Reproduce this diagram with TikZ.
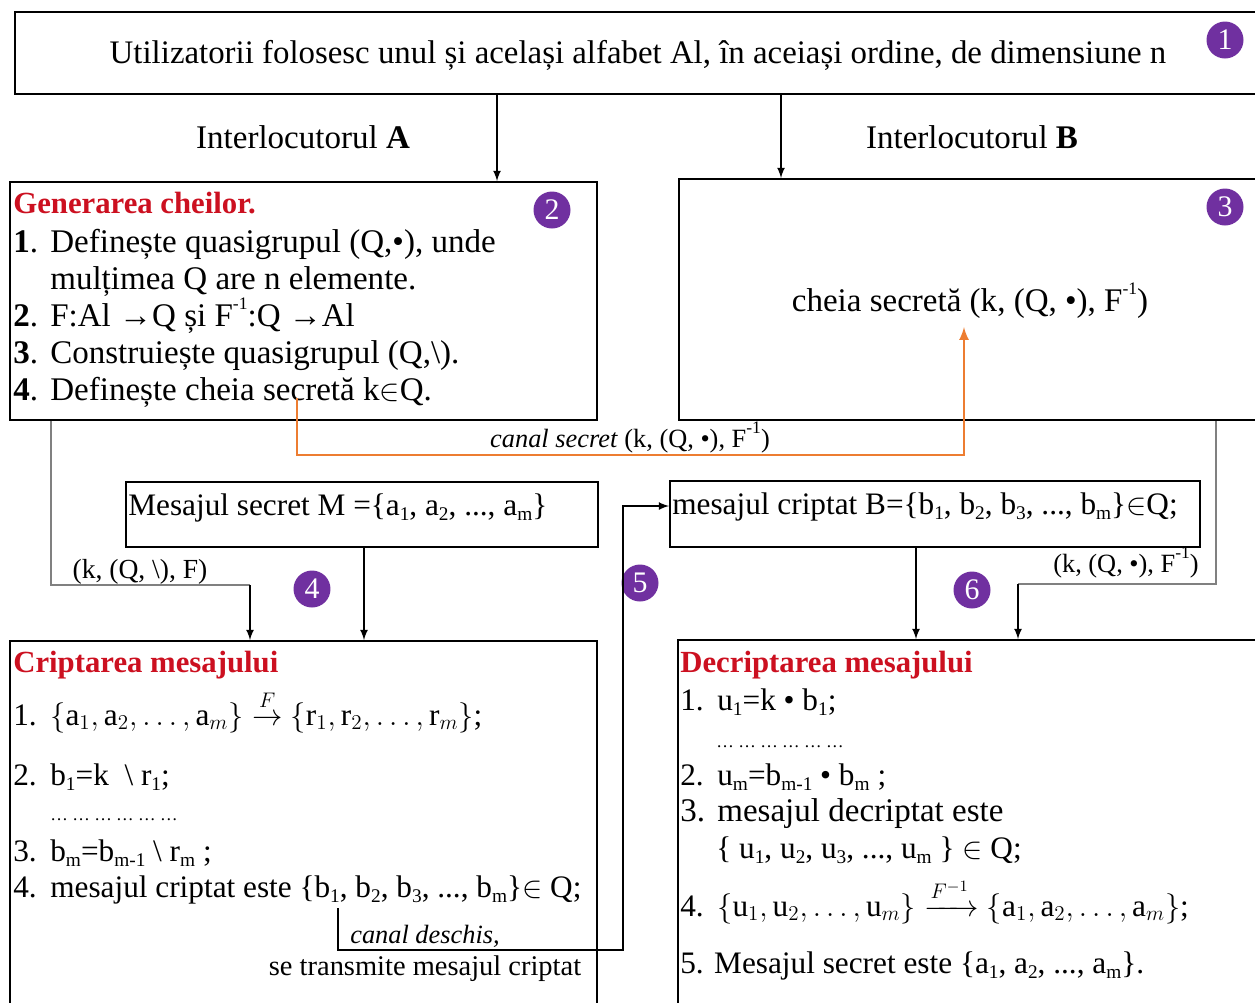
\documentclass[tikz,border=0pt]{standalone}
\usepackage{amsmath}
\usepackage{fontspec}
\setmainfont{Liberation Serif}
\usetikzlibrary{positioning,calc,arrows}
\definecolor{stepred}{RGB}{204,16,32}
\definecolor{badgepurple}{RGB}{112,48,160}
\definecolor{chanorange}{RGB}{237,125,49}
\newcommand{\sbs}[1]{\raisebox{-0.18em}{\fontsize{11}{12}\selectfont #1}}
\newcommand{\sps}[1]{\raisebox{0.5em}{\fontsize{10}{12}\selectfont #1}}
\newcommand{\itm}[1]{\makebox[0.74cm][l]{#1}}

\begin{document}
\begin{tikzpicture}[x=0.02cm,y=-0.02cm,>=latex,
    box/.style={draw,line width=1.1pt,inner sep=0pt},
    txt/.style={anchor=base west,inner sep=0pt,font=\fontsize{18.8}{22}\selectfont},
    stxt/.style={txt,font=\fontsize{17.8}{21}\selectfont},
    lbl/.style={anchor=base,inner sep=0pt,font=\fontsize{15}{18}\selectfont},
    title/.style={txt,text=stepred,font=\fontsize{17.5}{21}\selectfont\bfseries},
    badge/.style={circle,fill=badgepurple,text=white,inner sep=0pt,minimum size=0.74cm,font=\fontsize{17}{20}\selectfont},
    link/.style={->,line width=1pt},
    gline/.style={line width=0.8pt,gray}]
    \useasboundingbox (0,0) rectangle (1255,1002);

    % boxes
    \node[box,minimum width=24.9cm,minimum height=1.64cm] (top) at (637,53) {};
    \node[box,minimum width=11.74cm,minimum height=4.76cm] (gen) at (303.5,301) {};
    \node[box,minimum width=11.66cm,minimum height=4.82cm] (keyB) at (970.5,299.5) {};
    \node[box,minimum width=9.44cm,minimum height=1.3cm] (msg) at (362,514.5) {};
    \node[box,minimum width=10.6cm,minimum height=1.32cm] (cryptB) at (935,514) {};
    \node[box,minimum width=11.74cm,minimum height=7.4cm] (cript) at (303.5,826) {};
    \node[box,minimum width=11.68cm,minimum height=7.4cm] (decript) at (970,825) {};

    % top line
    \node[txt,anchor=base,font=\fontsize{18.7}{22}\selectfont] (alph) at (638,63)
        {Utilizatorii folosesc unul și același alfabet Al, în aceiași ordine, de dimensiune n};
    \node[txt,anchor=base] (userA) at (303,148) {Interlocutorul \textbf{A}};
    \node[txt,anchor=base] (userB) at (972,148) {Interlocutorul \textbf{B}};

    % key generation
    \node[title] (g0) at (13,213) {Generarea cheilor.};
    \node[txt] (g1) at (13,252) {\itm{\textbf{1}.}Definește quasigrupul (Q,•), unde};
    \node[txt] (g2) at (50,289) {mulțimea Q are n elemente.};
    \node[txt] (g3) at (13,326) {\itm{\textbf{2}.}F:Al →Q și F\sps{-1}:Q →Al};
    \node[txt] (g4) at (13,363) {\itm{\textbf{3}.}Construiește quasigrupul (Q,\textbackslash).};
    \node[txt] (g5) at (13,400) {\itm{\textbf{4}.}Definește cheia secretă k$\in$Q.};

    \node[txt,anchor=base] (sec) at (970,311) {cheia secretă (k, (Q, •), F\sps{-1})};

    % messages
    \node[stxt] (m0) at (128,515) {Mesajul secret M =\{a\sbs{1}, a\sbs{2}, ..., a\sbs{m}\}};
    \node[stxt] (b0) at (672,514) {mesajul criptat B=\{b\sbs{1}, b\sbs{2}, b\sbs{3}, ..., b\sbs{m}\}$\in$Q;};

    % encryption
    \node[title] (c0) at (13,672) {Criptarea mesajului};
    \node[stxt] (c1) at (13,725) {\itm{1.}$\{\mathrm{a}_1,\mathrm{a}_2,\dots,\mathrm{a}_m\}\stackrel{F}{\rightarrow}\{\mathrm{r}_1,\mathrm{r}_2,\dots,\mathrm{r}_m\}$;};
    \node[stxt] (c2) at (13,785) {\itm{2.}b\sbs{1}=k \ \textbackslash{} r\sbs{1};};
    \node[txt,font=\fontsize{10}{12}\selectfont] (c3) at (50,820) {… … … … … …};
    \node[stxt] (c4) at (13,861) {\itm{3.}b\sbs{m}=b\sbs{m-1} \textbackslash{} r\sbs{m} ;};
    \node[stxt] (c5) at (13,897) {\itm{4.}mesajul criptat este \{b\sbs{1}, b\sbs{2}, b\sbs{3}, ..., b\sbs{m}\}$\in$ Q;};

    % decryption
    \node[title] (d0) at (680,672) {Decriptarea mesajului};
    \node[stxt] (d1) at (680,710) {\itm{1.}u\sbs{1}=k • b\sbs{1};};
    \node[txt,font=\fontsize{10}{12}\selectfont] (d2) at (716,747) {… … … … … …};
    \node[stxt] (d3) at (680,785) {\itm{2.}u\sbs{m}=b\sbs{m-1} • b\sbs{m} ;};
    \node[txt] (d4) at (680,821) {\itm{3.}mesajul decriptat este};
    \node[stxt] (d5) at (716,858) {\{ u\sbs{1}, u\sbs{2}, u\sbs{3}, ..., u\sbs{m} \} $\in$ Q;};
    \node[stxt] (d6) at (680,916) {\itm{4.}$\{\mathrm{u}_1,\mathrm{u}_2,\dots,\mathrm{u}_m\}\xrightarrow{F^{-1}}\{\mathrm{a}_1,\mathrm{a}_2,\dots,\mathrm{a}_m\}$;};
    \node[stxt] (d7) at (680,973) {5. Mesajul secret este \{a\sbs{1}, a\sbs{2}, ..., a\sbs{m}\}.};

    % step numbers
    \node[badge] (n1) at (1225,40) {1};
    \node[badge] (n2) at (552,210) {2};
    \node[badge] (n3) at (1225,207) {3};
    \node[badge] (n4) at (312,589) {4};
    \node[badge] (n5) at (640,583) {5};
    \node[badge] (n6) at (972,590) {6};

    % connectors
    \draw[link] (497,0 |- top.south) -- (497,0 |- gen.north);
    \draw[link] (781,0 |- top.south) -- (781,0 |- keyB.north);

    \coordinate (kA) at (250,585);
    \draw[gline] (51,0 |- gen.south) |- (kA);
    \draw[link] (kA) -- (kA |- cript.north);
    \node[lbl,font=\fontsize{15.7}{18}\selectfont] (kAlbl) at (140,578) {(k, (Q, \textbackslash), F)};
    \draw[link] (364,0 |- msg.south) -- (364,0 |- cript.north);

    \coordinate (os) at (297,398);
    \coordinate (oe) at (964,327);
    \draw[->,line width=1.5pt,chanorange] (os) |- (oe |- 0,455) -- (oe);
    \node[lbl] (olbl) at (630,447) {\textit{canal secret} (k, (Q, •), F\sps{-1})};

    \coordinate (oc) at (338,908);
    \draw[link] (oc) |- (623,950) |- (cryptB.west |- 0,506);
    \node[lbl] (ochan) at (425,943) {\textit{canal deschis,}};
    \node[lbl,font=\fontsize{16.2}{18}\selectfont] (osend) at (425,975) {se transmite mesajul criptat};

    \draw[link] (916,0 |- cryptB.south) -- (916,0 |- decript.north);
    \coordinate (kB) at (1018,584);
    \draw[gline] (1216,0 |- keyB.south) |- (kB);
    \draw[link] (kB) -- (kB |- decript.north);
    \node[lbl] (kBlbl) at (1126,572) {(k, (Q, •), F\sps{-1})};
\end{tikzpicture}
\end{document}
